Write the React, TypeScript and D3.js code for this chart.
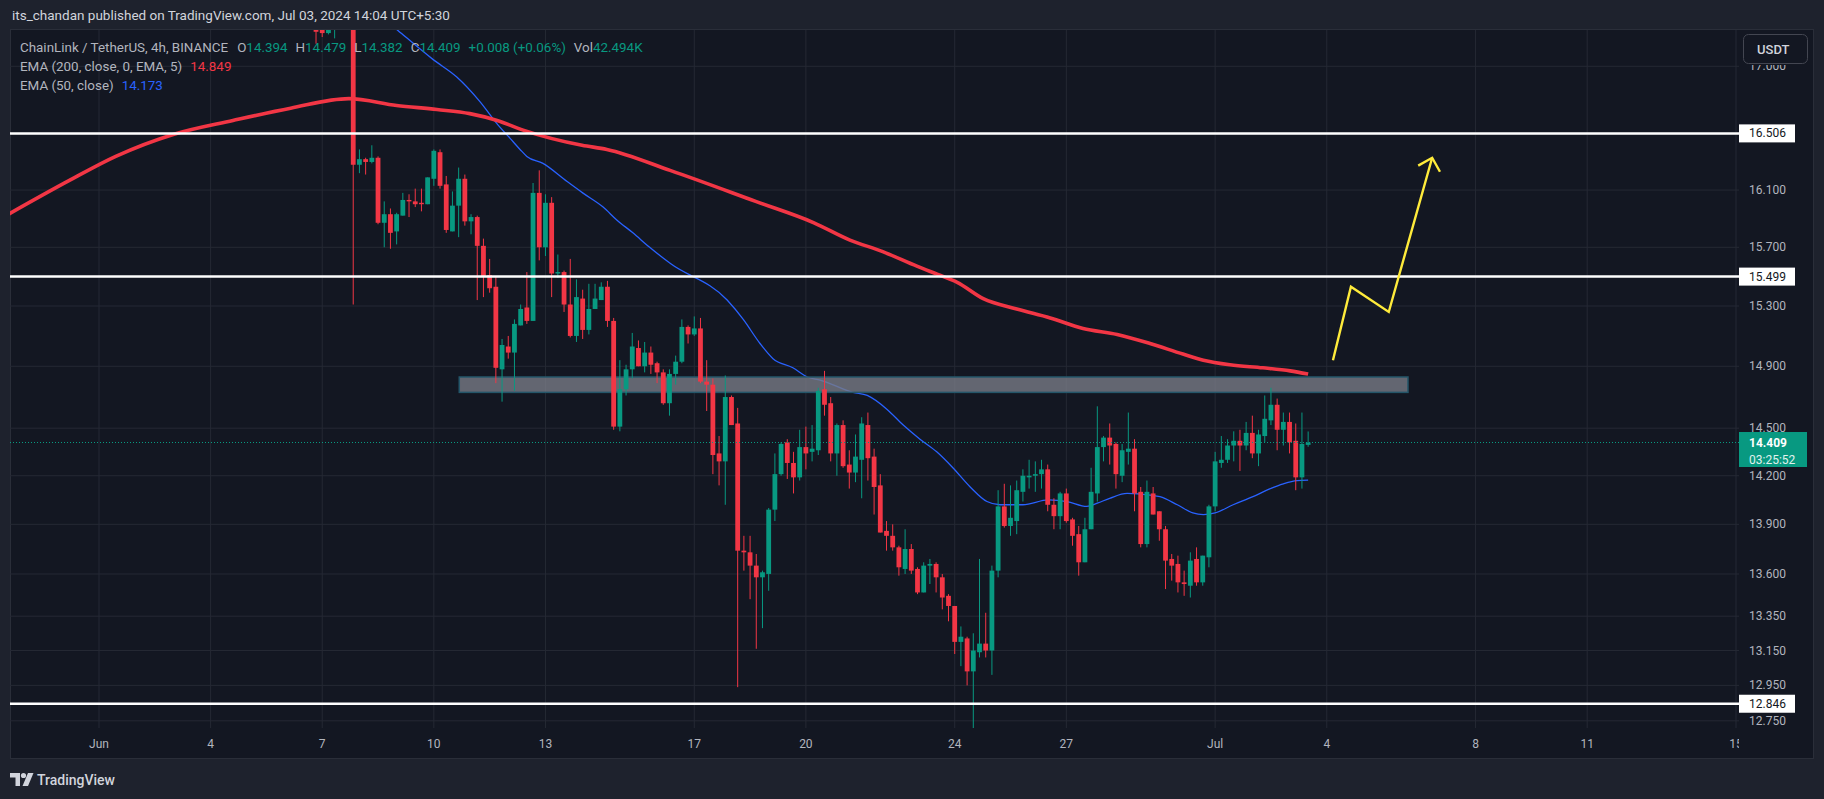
import * as d3 from "d3";

// ---- data ----
// 4h candles, first one opens 6 Jun 20:00 (chart time, UTC+5:30)
const firstCandle = Date.UTC(2024, 5, 6, 20, 0);
const stepMs = 4 * 3600 * 1000;

const opens = [
  17.45, 17.33, 17.25, 17.36, 17.42, 17.55,
  17.72, 16.28, 16.32, 16.30, 16.33, 15.87, 15.93, 15.81, 15.92, 16.03,
  16.02, 16.01, 16.00, 16.18, 16.37, 16.14, 15.81, 15.99, 16.18, 15.88,
  15.91, 15.71, 15.51, 15.43, 14.88, 15.03, 14.99, 15.17, 15.29, 15.20,
  16.08, 15.70, 16.01, 15.52, 15.53, 15.31, 15.10, 15.35, 15.14, 15.28,
  15.34, 15.43, 15.20, 14.51, 14.75, 14.88, 15.02, 14.90, 14.99, 14.92,
  14.86, 14.66, 14.85, 14.93, 15.16, 15.11, 15.15, 14.80, 14.78, 14.34,
  14.29, 14.70, 14.53, 13.74, 13.73, 13.65, 13.58, 13.60, 13.99, 14.21,
  14.41, 14.28, 14.19, 14.38, 14.35, 14.36, 14.75, 14.66, 14.34, 14.52,
  14.27, 14.22, 14.30, 14.52, 14.32, 14.14, 13.86, 13.83, 13.76, 13.63,
  13.75, 13.63, 13.49, 13.65, 13.66, 13.58, 13.47, 13.41, 13.20, 13.22,
  13.03, 13.14, 13.19, 13.15, 13.62, 14.01, 13.89, 13.92, 14.10, 14.19,
  14.20, 14.21, 14.24, 14.02, 13.95, 14.09, 13.93, 13.84, 13.67, 13.87,
  14.09, 14.38, 14.44, 14.40, 14.20, 14.35, 14.37, 14.10, 13.78, 14.09,
  13.98, 13.87, 13.69, 13.66, 13.55, 13.53, 13.69, 13.55, 13.70, 14.01,
  14.28, 14.30, 14.39, 14.42, 14.39, 14.47, 14.34, 14.45, 14.55, 14.65,
  14.49, 14.54, 14.42, 14.19, 14.394,
];
const highs = [
  17.55, 17.40, 17.42, 17.48, 17.60, 17.78,
  17.82, 16.39, 16.33, 16.42, 16.34, 16.02, 15.97, 15.94, 16.08, 16.07,
  16.11, 16.11, 16.19, 16.39, 16.39, 16.20, 16.09, 16.26, 16.21, 15.93,
  15.92, 15.76, 15.62, 15.50, 15.08, 15.10, 15.21, 15.31, 15.53, 16.15,
  16.24, 16.07, 16.05, 15.65, 15.54, 15.62, 15.48, 15.41, 15.45, 15.45,
  15.46, 15.47, 15.22, 14.94, 14.91, 15.12, 15.07, 15.06, 15.03, 14.93,
  14.88, 14.88, 14.97, 15.21, 15.17, 15.23, 15.22, 14.94, 14.82, 14.45,
  14.84, 14.71, 14.63, 13.83, 13.83, 13.72, 13.62, 14.00, 14.34, 14.41,
  14.43, 14.35, 14.49, 14.51, 14.52, 14.76, 14.87, 14.70, 14.53, 14.55,
  14.36, 14.46, 14.57, 14.60, 14.37, 14.21, 13.92, 13.90, 13.77, 13.87,
  13.78, 13.64, 13.67, 13.69, 13.67, 13.60, 13.48, 13.41, 13.29, 13.23,
  13.25, 13.69, 13.37, 13.65, 14.11, 14.15, 14.14, 14.17, 14.24, 14.30,
  14.29, 14.30, 14.27, 14.06, 14.10, 14.12, 13.94, 13.89, 13.94, 14.25,
  14.64, 14.45, 14.53, 14.41, 14.40, 14.60, 14.43, 14.13, 14.17, 14.13,
  13.98, 13.89, 13.72, 13.71, 13.62, 13.73, 13.76, 13.71, 14.02, 14.35,
  14.45, 14.43, 14.48, 14.49, 14.54, 14.58, 14.49, 14.71, 14.76, 14.69,
  14.60, 14.60, 14.53, 14.60, 14.479,
];
const lows = [
  17.17, 17.22, 17.24, 17.21, 17.35, 17.48,
  15.31, 16.22, 16.21, 16.29, 15.86, 15.70, 15.69, 15.72, 15.92, 15.91,
  15.98, 15.95, 16.00, 16.13, 16.11, 15.80, 15.81, 15.77, 15.85, 15.79,
  15.34, 15.36, 15.39, 14.79, 14.67, 14.95, 14.74, 15.17, 15.18, 15.20,
  15.61, 15.64, 15.36, 15.49, 15.26, 15.09, 15.06, 15.08, 15.11, 15.28,
  15.34, 15.16, 14.49, 14.48, 14.71, 14.82, 14.90, 14.86, 14.85, 14.79,
  14.65, 14.58, 14.78, 14.92, 15.05, 15.10, 14.79, 14.61, 14.21, 14.14,
  14.02, 14.52, 12.94, 13.62, 13.45, 13.16, 13.28, 13.50, 13.92, 14.20,
  14.18, 14.09, 14.17, 14.24, 14.29, 14.33, 14.58, 14.29, 14.20, 14.25,
  14.12, 14.16, 14.06, 14.17, 13.96, 13.85, 13.74, 13.74, 13.59, 13.60,
  13.60, 13.48, 13.49, 13.54, 13.49, 13.39, 13.32, 13.13, 13.06, 12.95,
  12.70, 13.11, 13.11, 13.01, 13.58, 13.88, 13.83, 13.84, 14.04, 14.12,
  14.10, 14.12, 13.98, 13.87, 13.87, 13.91, 13.77, 13.59, 13.67, 13.87,
  14.04, 14.29, 14.27, 14.12, 14.16, 14.27, 13.98, 13.76, 13.76, 13.96,
  13.80, 13.51, 13.56, 13.49, 13.47, 13.46, 13.53, 13.53, 13.64, 13.98,
  14.25, 14.28, 14.29, 14.23, 14.36, 14.31, 14.26, 14.41, 14.52, 14.36,
  14.39, 14.34, 14.11, 14.12, 14.382,
];
const closes = [
  17.26, 17.25, 17.36, 17.42, 17.55, 17.72,
  16.28, 16.32, 16.30, 16.33, 15.87, 15.93, 15.80, 15.93, 16.03, 16.02,
  16.00, 16.00, 16.19, 16.38, 16.13, 15.82, 15.99, 16.18, 15.88, 15.91,
  15.71, 15.50, 15.42, 14.89, 15.04, 14.99, 15.18, 15.28, 15.20, 16.08,
  15.70, 16.01, 15.52, 15.53, 15.31, 15.10, 15.36, 15.14, 15.28, 15.35,
  15.43, 15.20, 14.51, 14.75, 14.88, 15.03, 14.90, 14.99, 14.91, 14.86,
  14.66, 14.85, 14.93, 15.16, 15.11, 15.15, 14.80, 14.78, 14.33, 14.29,
  14.70, 14.52, 13.74, 13.73, 13.65, 13.58, 13.61, 13.99, 14.21, 14.40,
  14.28, 14.19, 14.38, 14.34, 14.37, 14.74, 14.65, 14.34, 14.52, 14.26,
  14.22, 14.32, 14.53, 14.31, 14.13, 13.85, 13.83, 13.76, 13.64, 13.75,
  13.62, 13.49, 13.65, 13.66, 13.58, 13.46, 13.41, 13.20, 13.23, 13.03,
  13.15, 13.19, 13.15, 13.62, 14.01, 13.89, 13.94, 14.11, 14.20, 14.20,
  14.21, 14.24, 14.02, 13.95, 14.09, 13.92, 13.83, 13.67, 13.87, 14.10,
  14.38, 14.44, 14.39, 14.21, 14.36, 14.37, 14.09, 13.78, 14.10, 13.96,
  13.87, 13.68, 13.65, 13.55, 13.54, 13.68, 13.55, 13.71, 14.01, 14.29,
  14.30, 14.39, 14.42, 14.39, 14.47, 14.34, 14.46, 14.56, 14.65, 14.49,
  14.54, 14.41, 14.19, 14.40, 14.409,
];

// EMA samples, position in candle steps from the first candle
const ema200Step = [-50, -39.7, -32.3, -22.9, -13.4, -4.1, 5.3, 13, 19.5, 24.8, 29.2, 33.4, 42.9, 46.9, 57.1, 70.9, 80.3, 86.1, 91.4, 96.9, 101.1, 103.4, 107.6, 113, 118.4, 123.7, 129.2, 134.5, 139.8, 143.1, 147.4, 152.7, 157.1, 160];
const ema200Val = [15.92, 16.17, 16.34, 16.5, 16.6, 16.69, 16.76, 16.71, 16.68, 16.65, 16.6, 16.53, 16.42, 16.39, 16.24, 16.02, 15.87, 15.75, 15.67, 15.57, 15.5, 15.46, 15.35, 15.28, 15.22, 15.15, 15.11, 15.05, 14.98, 14.94, 14.91, 14.89, 14.87, 14.849];
const ema50Step = [6, 13.2, 18.9, 22.7, 26.4, 29.3, 31.3, 32.9, 34, 36.6, 40.5, 43, 46.3, 48.5, 51.1, 53.8, 57.1, 66.3, 68.9, 71.6, 73.7, 76.9, 79.2, 81.3, 86.6, 88.9, 92.1, 94.7, 97.4, 100.1, 102.7, 105.5, 108.2, 110.3, 114, 118.1, 121.1, 124.3, 126, 128, 130.8, 134.5, 136.1, 138.9, 141.4, 143.1, 145, 147.9, 151.1, 153.9, 156, 158.2, 160];
const ema50Val = [17.56, 17.27, 17.05, 16.92, 16.74, 16.57, 16.47, 16.39, 16.34, 16.29, 16.16, 16.08, 15.98, 15.89, 15.8, 15.7, 15.59, 15.34, 15.21, 15.05, 14.95, 14.89, 14.83, 14.81, 14.73, 14.71, 14.62, 14.52, 14.43, 14.35, 14.25, 14.13, 14.04, 14.02, 14.02, 14.05, 14.04, 14.01, 14.03, 14.06, 14.09, 14.08, 14.07, 14.02, 13.97, 13.96, 13.97, 14.02, 14.07, 14.12, 14.15, 14.17, 14.173];

// drawings
const levels = [16.506, 15.499, 12.846];
const zoneStep = [23.1, 176.1];
const zonePrice = [14.73, 14.83];
const arrowStep = [164, 166.9, 173, 180];
const arrowPrice = [14.94, 15.43, 15.26, 16.33];

const lastPrice = 14.409;
const countdown = "03:25:52";

// legend
const ohlcKeys = ["O", "H", "L", "C"];
const ohlcVals = ["14.394", "14.479", "14.382", "14.409"];

// axes
const priceTicks = [17.0, 16.5, 16.1, 15.7, 15.3, 14.9, 14.5, 14.2, 13.9, 13.6, 13.35, 13.15, 12.95, 12.75];
const dateTickLabels = ["Jun", "4", "7", "10", "13", "17", "20", "24", "27", "Jul", "4", "8", "11", "15"];
const dateTickDays = ["2024-06-01", "2024-06-04", "2024-06-07", "2024-06-10", "2024-06-13", "2024-06-17", "2024-06-20", "2024-06-24", "2024-06-27", "2024-07-01", "2024-07-04", "2024-07-08", "2024-07-11", "2024-07-15"];

// ---- layout ----
const W = 1824;
const H = 799;
const PL = 10;
const PR = 1739;
const PT = 30;
const PB = 728;
const UP = "#089981";
const DOWN = "#f23645";
const GRID = "#252934";
const TXT = "#b2b5be";
const BG = "#131722";
const FONT = "Roboto, 'Noto Sans', sans-serif";

const x = d3
  .scaleUtc()
  .domain([Date.UTC(2024, 5, 1), Date.UTC(2024, 6, 15)])
  .range([99, 1736]);
const y = d3.scaleLog().domain([12.75, 17]).range([720.8, 66.3]);
const xs = (k: number) => x(new Date(firstCandle + k * stepMs));
const dayX = (s: string) => x(new Date(s + "T00:00:00Z"));

export default function App() {
  const line = d3
    .line<[number, number]>()
    .x((d) => xs(d[0]))
    .y((d) => y(d[1]))
    .curve(d3.curveMonotoneX);
  const ema200 = line(ema200Step.map((s, i) => [s, ema200Val[i]]));
  const ema50 = line(ema50Step.map((s, i) => [s, ema50Val[i]]));
  const arrowPts = arrowStep.map((s, i) => [xs(s), y(arrowPrice[i])] as [number, number]);
  const arrowPath = d3.line()(arrowPts);
  const [ax, ay] = arrowPts[arrowPts.length - 1];
  const [bx, by] = arrowPts[arrowPts.length - 2];
  const ang = Math.atan2(by - ay, bx - ax);
  const head = [ang + Math.PI / 4, ang - Math.PI / 4].map((a) => [ax + 16 * Math.cos(a), ay + 16 * Math.sin(a)]);
  const lastY = y(lastPrice);
  const bw = 4.8;

  return (
    <div style={{ position: "fixed", left: 0, top: 0, width: W, height: H, background: "#1e222d" }}>
      <svg width={W} height={H} style={{ display: "block", fontFamily: FONT }}>
        <defs>
          <clipPath id="plot">
            <rect x={PL} y={PT} width={PR - PL} height={PB - PT} />
          </clipPath>
          <clipPath id="taxis">
            <rect x={PL} y={PB} width={PR - PL} height={40} />
          </clipPath>
        </defs>
        <text x={12} y={20} fontSize={13.5} fill="#d1d4dc">
          its_chandan published on TradingView.com, Jul 03, 2024 14:04 UTC+5:30
        </text>
        <rect x={PL + 0.5} y={PT - 0.5} width={1803} height={729} fill={BG} stroke="#2a2e39" />

        <g clipPath="url(#plot)">
          {priceTicks.map((p) => (
            <line key={p} x1={PL} x2={PR} y1={y(p)} y2={y(p)} stroke={GRID} />
          ))}
          {dateTickDays.map((d) => (
            <line key={d} x1={dayX(d)} x2={dayX(d)} y1={PT} y2={PB} stroke={GRID} />
          ))}
          <path d={ema50 ?? ""} fill="none" stroke="#2962ff" strokeWidth={1.3} />
          <rect
            x={xs(zoneStep[0])}
            y={y(zonePrice[1])}
            width={xs(zoneStep[1]) - xs(zoneStep[0])}
            height={y(zonePrice[0]) - y(zonePrice[1])}
            fill="rgba(120,123,134,0.8)"
            stroke="#24566a"
            strokeWidth={1.5}
          />
          {opens.map((o, k) => {
            const c = closes[k];
            const col = c >= o ? UP : DOWN;
            const cx = xs(k);
            const top = y(Math.max(o, c));
            const bot = y(Math.min(o, c));
            return (
              <g key={k}>
                <line x1={cx} x2={cx} y1={y(highs[k])} y2={y(lows[k])} stroke={col} strokeWidth={1} />
                <rect x={cx - bw / 2} y={top} width={bw} height={Math.max(1, bot - top)} fill={col} />
              </g>
            );
          })}
          <path d={ema200 ?? ""} fill="none" stroke={DOWN} strokeWidth={3.6} strokeLinejoin="round" />
          {levels.map((l) => (
            <line key={l} x1={PL} x2={PR} y1={y(l)} y2={y(l)} stroke="#ffffff" strokeWidth={2.5} />
          ))}
          <line x1={PL} x2={PR} y1={lastY} y2={lastY} stroke={UP} strokeDasharray="1 2" />
          <path d={arrowPath ?? ""} fill="none" stroke="#ffeb3b" strokeWidth={2.4} strokeLinejoin="miter" />
          <path
            d={`M${head[0][0]},${head[0][1]}L${ax},${ay}L${head[1][0]},${head[1][1]}`}
            fill="none"
            stroke="#ffeb3b"
            strokeWidth={2.4}
          />
        </g>

        {/* legend */}
        <g fontSize={13.4} fill={TXT}>
          <text x={20} y={52}>
            ChainLink / TetherUS, 4h, BINANCE
            {ohlcKeys.map((k, i) => (
              <tspan key={k} dx={i === 0 ? 9 : 8}>
                {k}
                <tspan fill={UP}>{ohlcVals[i]}</tspan>
              </tspan>
            ))}
            <tspan dx={8} fill={UP}>+0.008 (+0.06%)</tspan>
            <tspan dx={8}>Vol</tspan>
            <tspan fill={UP}>42.494K</tspan>
          </text>
          <text x={20} y={71}>
            EMA (200, close, 0, EMA, 5)
            <tspan dx={8} fill={DOWN}>14.849</tspan>
          </text>
          <text x={20} y={90}>
            EMA (50, close)
            <tspan dx={8} fill="#2962ff">14.173</tspan>
          </text>
        </g>

        {/* price axis */}
        <g fontSize={12} fill={TXT}>
          {priceTicks.map((p) => (
            <text key={p} x={1749} y={y(p)} dominantBaseline="central">
              {p.toFixed(3)}
            </text>
          ))}
        </g>
        {levels.map((l) => (
          <g key={l}>
            <rect x={1739} y={y(l) - 9} width={56} height={18} fill="#ffffff" />
            <text x={1749} y={y(l)} dominantBaseline="central" fontSize={12} fill={BG}>
              {l.toFixed(3)}
            </text>
          </g>
        ))}
        <rect x={1739} y={lastY - 10.5} width={68} height={35} fill={UP} />
        <text x={1749} y={lastY} dominantBaseline="central" fontSize={12} fontWeight={700} fill="#ffffff">
          {lastPrice.toFixed(3)}
        </text>
        <text x={1749} y={lastY + 17} dominantBaseline="central" fontSize={12} fill="#e0f2ee">
          {countdown}
        </text>
        {/* currency button, with its backing strip hiding the top tick label */}
        <rect x={1740} y={PT} width={72} height={35} fill={BG} />
        <rect x={1743.5} y={34.5} width={64} height={29} rx={5} fill={BG} stroke="#434651" />
        <text x={1757} y={49} dominantBaseline="central" fontSize={13} fontWeight={500} fill="#d1d4dc">
          USDT
        </text>

        {/* time axis */}
        <g fontSize={12} fill={TXT} textAnchor="middle" clipPath="url(#taxis)">
          {dateTickDays.map((d, i) => (
            <text key={d} x={dayX(d)} y={744} dominantBaseline="central">
              {dateTickLabels[i]}
            </text>
          ))}
        </g>

        {/* footer logo */}
        <g fill="#d1d4dc">
          <path d="M10,773 h10 v13 h-4.5 v-8.5 h-5.5 z" />
          <circle cx={23.5} cy={775.5} r={2.6} />
          <path d="M28,773 h5.5 l-5.5,13 h-5.5 z" />
          <text x={37} y={785} fontSize={14} fontWeight={500}>TradingView</text>
        </g>
      </svg>
    </div>
  );
}
